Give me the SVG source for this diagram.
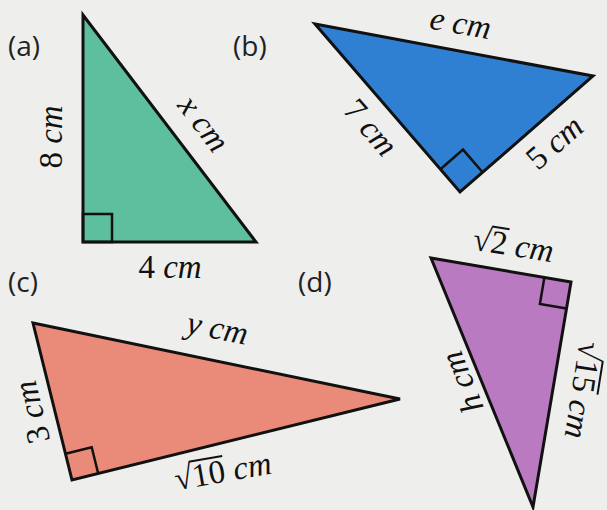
<svg xmlns="http://www.w3.org/2000/svg" width="607" height="510" viewBox="0 0 607 510">
<style>
.tri{stroke:#111;stroke-width:3;stroke-linejoin:miter}
.sq{fill:none;stroke:#111;stroke-width:2.5}
.lbl{font-family:"Open Sans","Noto Sans",sans-serif;font-size:28px;fill:#222}
.m{font-family:"Liberation Serif",serif;font-size:33px;fill:#111}
.i{font-style:italic}
.ov{stroke:#111;stroke-width:2}
</style>
<rect width="607" height="510" fill="#eeeeec"/>

<g id="a">
<polygon class="tri" points="83,15 83,242 256,242" fill="#5dbf9e"/>
<rect class="sq" x="83" y="214" width="29" height="28"/>
<text class="lbl" x="8" y="56">(a)</text>
<g transform="translate(52,137) rotate(-90)"><text class="m" text-anchor="middle" y="10">8 <tspan class="i">cm</tspan></text></g>
<g transform="translate(203,124) rotate(52.7)"><text class="m" text-anchor="middle" y="10"><tspan class="i">x cm</tspan></text></g>
<text class="m" x="170" y="278" text-anchor="middle">4 <tspan class="i">cm</tspan></text>
</g>

<g id="b">
<polygon class="tri" points="315,24 593,76 460,192" fill="#2f7fd2"/>
<polyline class="sq" points="440.4,169.3 463,149.6 482.6,172.3"/>
<text class="lbl" x="233" y="56">(b)</text>
<g transform="translate(460,27) rotate(10)"><text class="m" text-anchor="middle" y="7"><tspan class="i">e cm</tspan></text></g>
<g transform="translate(370,128) rotate(49)"><text class="m" text-anchor="middle" y="10">7 <tspan class="i">cm</tspan></text></g>
<g transform="translate(555,143) rotate(-41)"><text class="m" text-anchor="middle" y="10">5 <tspan class="i">cm</tspan></text></g>
</g>

<g id="c">
<polygon class="tri" points="33,323 400,399 72,480" fill="#ea8a78"/>
<polyline class="sq" points="65.5,453.8 91.7,447.3 98.2,473.5"/>
<text class="lbl" x="8" y="292">(c)</text>
<g transform="translate(217,331) rotate(11)"><text class="m" text-anchor="middle" y="8"><tspan class="i">y cm</tspan></text></g>
<g transform="translate(33,412) rotate(-104)"><text class="m" text-anchor="middle" y="10">3 <tspan class="i">cm</tspan></text></g>
<g transform="translate(223,472) rotate(-10)"><text class="m" x="-49" y="10">√10 <tspan class="i">cm</tspan></text><line class="ov" x1="-32" y1="-16" x2="2" y2="-16"/></g>
</g>

<g id="d">
<polygon class="tri" points="431,258 571,282 533,507" fill="#b97ac2"/>
<polyline class="sq" points="544.4,277.4 539.9,304 566.5,308.6"/>
<text class="lbl" x="298" y="292">(d)</text>
<g transform="translate(513,246) rotate(9)"><text class="m" x="-40.5" y="10">√2 <tspan class="i">cm</tspan></text><line class="ov" x1="-23.5" y1="-16" x2="-6" y2="-16"/></g>
<g transform="translate(581,390) rotate(99)"><text class="m" x="-49" y="9">√15 <tspan class="i">cm</tspan></text><line class="ov" x1="-32" y1="-17" x2="2" y2="-17"/></g>
<g transform="translate(463,382) rotate(-112)"><text class="m" text-anchor="middle" y="10"><tspan class="i">h cm</tspan></text></g>
</g>
</svg>
